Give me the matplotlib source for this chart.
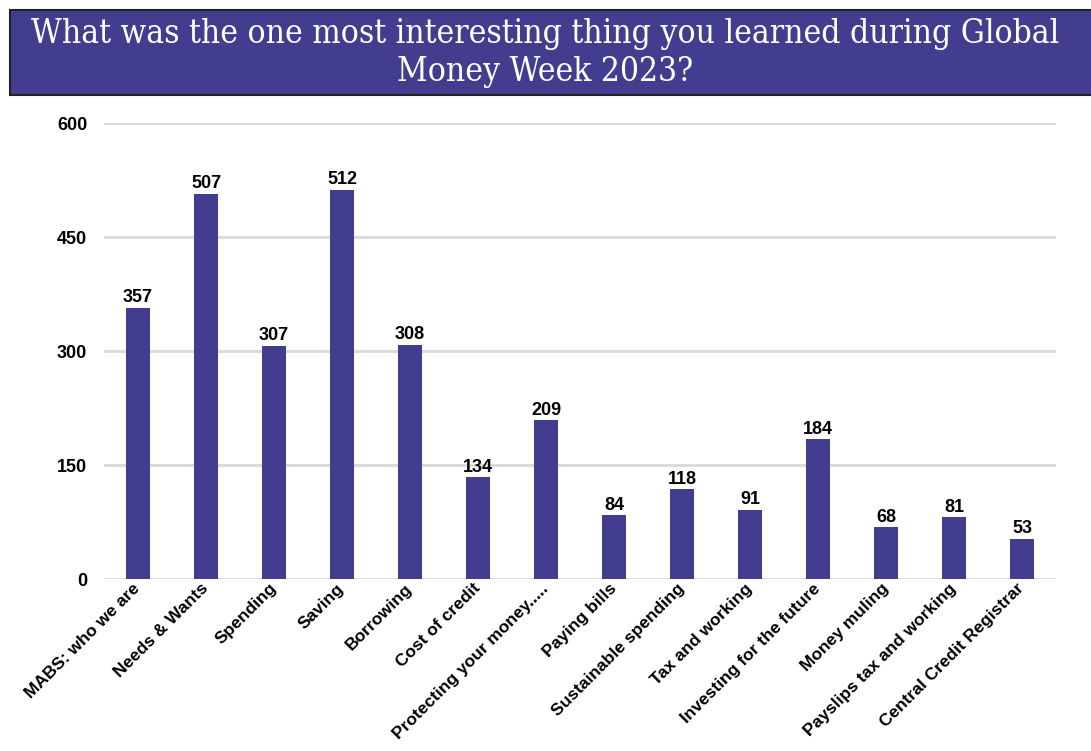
import matplotlib.pyplot as plt
from matplotlib.patches import Rectangle

# Ответы на опрос
categories = ['MABS: who we are', 'Needs & Wants', 'Spending', 'Saving', 'Borrowing',
              'Cost of credit', 'Protecting your money.....', 'Paying bills',
              'Sustainable spending', 'Tax and working', 'Investing for the future',
              'Money muling', 'Payslips tax and working', 'Central Credit Registrar']
counts = [357, 507, 307, 512, 308, 134, 209, 84, 118, 91, 184, 68, 81, 53]
y_ticks = [0, 150, 300, 450, 600]

bar_color = '#433d8f'
W, H = 1091, 751

fig = plt.figure(figsize=(W / 100, H / 100), dpi=100)

# Заголовок в синей плашке
fig.patches.append(Rectangle((10 / W, 1 - 95 / H), 1.0, 85 / H, transform=fig.transFigure,
                             facecolor=bar_color, edgecolor='#222222', linewidth=1.5))
fig.text(0.5, 1 - 53 / H,
         'What was the one most interesting thing you learned during Global\nMoney Week 2023?',
         ha='center', va='center', color='white', fontsize=24,
         family='DejaVu Serif', stretch='condensed', linespacing=1.28)

ax = fig.add_axes([104 / W, 1 - 579 / H, 952 / W, 456 / H])
x = range(len(categories))
ax.bar(x, counts, width=0.36, color=bar_color, zorder=3)

for i, v in enumerate(counts):
    ax.text(i, v + 2, str(v), ha='center', va='bottom', fontsize=13,
            fontweight='bold', family='Liberation Sans')

ax.set_xlim(-0.5, len(categories) - 0.5)
ax.set_ylim(0, 600)
ax.set_yticks(y_ticks)
ax.set_yticklabels([str(t) for t in y_ticks], fontsize=13, fontweight='bold',
                   family='Liberation Sans')
ax.yaxis.grid(True, color='#d9d9d9', linewidth=2, zorder=0)
ax.set_xticks(list(x))
ax.set_xticklabels(categories, rotation=45, ha='right', va='center',
                   rotation_mode='anchor', fontsize=12.5, fontweight='bold',
                   family='Liberation Sans')
ax.tick_params(axis='x', length=0, pad=5)
ax.tick_params(axis='y', length=0, pad=12)
for s in ax.spines.values():
    s.set_visible(False)

fig.savefig('out.png', dpi=100)
